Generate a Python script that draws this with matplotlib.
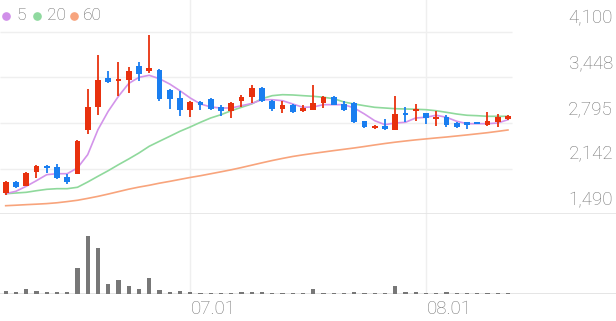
import numpy as np
import matplotlib.pyplot as plt

# daily candles, 50 sessions (07.01 -> index 18, 08.01 -> index 41)
opens = [1785, 1950, 1895, 2090, 2185, 2160, 2020, 2070, 2700, 3025,
         3440, 3395, 3415, 3610, 3545, 3550, 3275, 3155, 2985, 3095,
         3145, 3020, 2965, 3105, 3170, 3295, 3115, 2995, 3055, 2970,
         2985, 3080, 3170, 3065, 3080, 2820, 2730, 2755, 2700, 2935,
         2965, 2935, 2855, 2875, 2795, 2810, 2810, 2770, 2805, 2855]
highs = [1965, 1965, 2090, 2195, 2195, 2200, 2070, 2550, 3280, 3775,
         3545, 3665, 3595, 3665, 4060, 3570, 3280, 3260, 3110, 3105,
         3155, 3050, 3090, 3200, 3335, 3310, 3125, 3105, 3065, 3055,
         3335, 3185, 3185, 3105, 3090, 2825, 2770, 2855, 3185, 3020,
         3065, 2945, 2970, 2905, 2815, 2815, 2815, 2955, 2925, 2905]
lows = [1765, 1865, 1890, 2005, 2080, 1990, 1920, 2065, 2635, 2915,
        3370, 3180, 3225, 3395, 3510, 3105, 3000, 2890, 2875, 2980,
        2980, 2900, 2865, 3020, 3080, 3095, 2970, 2940, 2940, 2950,
        2980, 3010, 3050, 2970, 2795, 2730, 2710, 2700, 2695, 2805,
        2830, 2780, 2750, 2740, 2730, 2710, 2775, 2750, 2740, 2840]
closes = [1950, 1875, 2080, 2185, 2155, 2005, 1950, 2540, 3030, 3415,
          3385, 3430, 3535, 3500, 3585, 3140, 3145, 2975, 3095, 3050,
          2990, 2965, 3080, 3165, 3295, 3105, 2995, 3055, 2955, 3010,
          3080, 3170, 3055, 2985, 2805, 2740, 2750, 2705, 2925, 2915,
          2985, 2865, 2885, 2760, 2740, 2770, 2780, 2825, 2875, 2890]

ma5 = [1781, 1816, 1887, 1968, 2054, 2068, 2068, 2150, 2341, 2699,
       2963, 3178, 3362, 3450, 3479, 3430, 3354, 3258, 3154, 3068,
       3025, 3010, 3010, 3043, 3075, 3129, 3129, 3115, 3068, 3020,
       3025, 3058, 3058, 3058, 3010, 2924, 2828, 2771, 2795, 2805,
       2867, 2877, 2906, 2877, 2820, 2785, 2785, 2785, 2795, 2842]
ma20 = [1781, 1791, 1801, 1824, 1844, 1853, 1853, 1873, 1949, 2031,
        2111, 2197, 2279, 2365, 2461, 2533, 2604, 2676, 2738, 2805,
        2867, 2914, 2971, 3020, 3068, 3144, 3187, 3201, 3197, 3187,
        3178, 3164, 3144, 3096, 3068, 3043, 3020, 3010, 3000, 2996,
        2992, 2986, 2971, 2948, 2924, 2906, 2900, 2891, 2891, 2891]
ma60 = [1609, 1616, 1624, 1631, 1639, 1651, 1668, 1687, 1714, 1743,
        1776, 1811, 1846, 1876, 1902, 1932, 1958, 1986, 2014, 2039,
        2067, 2095, 2124, 2156, 2190, 2224, 2257, 2287, 2315, 2338,
        2359, 2379, 2399, 2418, 2437, 2458, 2480, 2501, 2520, 2537,
        2553, 2567, 2581, 2594, 2609, 2624, 2640, 2656, 2675, 2695]

# volume, thousands of shares
volumes = [500, 250, 700, 400, 250, 250, 250, 3950, 8750, 6850,
           1500, 2050, 1250, 700, 2450, 650, 300, 450, 300, 200,
           200, 200, 200, 250, 250, 350, 200, 200, 180, 150,
           800, 200, 200, 200, 250, 200, 200, 150, 1250, 250,
           250, 200, 200, 250, 150, 150, 200, 200, 150, 150]

price_ticks = [1490, 2142, 2795, 3448, 4100]
price_labels = ['1,490', '2,142', '2,795', '3,448', '4,100']
date_pos = [18, 41]
date_labels = ['07.01', '08.01']

UP = '#e8310e'
DOWN = '#1a7ef0'
TXT = '#757575'
GRID = '#efefef'
FONT = 'Roboto'

fig = plt.figure(figsize=(6.16, 3.21), dpi=100)
W, H = 616, 321

ax = fig.add_axes([0, (H - 214) / H, 1, 214 / H])
axv = fig.add_axes([0, (H - 294) / H, 1, 80 / H])

x = np.arange(len(closes))
xmin, xmax = -0.556, 59.54
grid_end = 49.4

for a in (ax, axv):
    a.set_xlim(xmin, xmax)
    a.axis('off')
    for p in date_pos:
        a.axvline(p, color=GRID, lw=1, zorder=0)

# price panel
ytop = 4100 + (4100 - 1490) / 182 * 32
ax.set_ylim(1490, ytop)
ax.hlines(price_ticks[1:], xmin, grid_end, color=GRID, lw=1, zorder=0)
ax.axhline(1490, color='#e4e4e4', lw=1.2, zorder=0)

o = np.array(opens)
c = np.array(closes)
colors = [UP if cc >= oo else DOWN for oo, cc in zip(o, c)]
ax.vlines(x, lows, highs, colors=colors, lw=1.3, zorder=2)
body_h = np.maximum(np.abs(c - o), 25)
ax.bar(x, body_h, bottom=np.minimum(o, c), width=0.55, color=colors, zorder=3)

ax.plot(x, ma60, color='#f8a47c', lw=1.2, zorder=1)
ax.plot(x, ma20, color='#8fd99c', lw=1.2, zorder=1)
ax.plot(x, ma5, color='#d394ea', lw=1.2, zorder=1)

for v, lab in zip(price_ticks, price_labels):
    ax.annotate(lab, xy=(1, v), xycoords=ax.get_yaxis_transform(),
                xytext=(-3, 14), textcoords='offset pixels',
                ha='right', va='center', fontsize=13.5, color=TXT,
                family=FONT, fontweight='light')

# legend
leg_y = (214 - 15.7) / 214
for dx, tx, col, lab in [(5.7, 16, '#d08fe9', '5'), (37.3, 46.5, '#8fd99f', '20'),
                         (74, 83, '#f7a47e', '60')]:
    ax.plot(dx / W, leg_y, 'o', ms=5.2, color=col, transform=ax.transAxes,
            clip_on=False)
    ax.text(tx / W, leg_y, lab, transform=ax.transAxes, ha='left', va='center',
            fontsize=12.5, color='#666666', family=FONT, fontweight='light')

# volume panel
axv.set_ylim(0, 12000)
axv.bar(x, volumes, width=0.42, color='#777777', zorder=2)
axv.axhline(0, color='#e0e0e0', lw=1.2, zorder=1)
for p, lab in zip(date_pos, date_labels):
    axv.annotate(lab, xy=(p, 0), xycoords=('data', 'axes fraction'),
                 xytext=(1, -15), textcoords='offset pixels',
                 ha='left', va='center', fontsize=13.5, color=TXT,
                 family=FONT, fontweight='light')

fig.savefig('out.png', dpi=100)
